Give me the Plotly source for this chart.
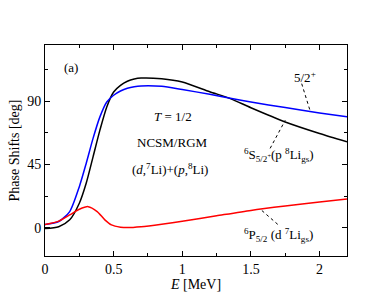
import plotly.graph_objects as go

# Energy grid (MeV) for the 5/2+ and 6S curves
E = [0, 0.1, 0.18, 0.25, 0.3, 0.35, 0.4, 0.45, 0.5, 0.55, 0.6, 0.65, 0.7, 0.85, 1.0, 1.2, 1.35, 1.5, 1.75, 2.0, 2.2]
black_52 = [-0.5, 0.8, 5.7, 17.5, 31.7, 50.5, 69.5, 86, 96.6, 101.3, 104.2, 105.8, 106.5, 106, 103.7, 96.8, 91.9, 85.4, 75.3, 67.1, 61.2]
blue_6S = [2.3, 4.5, 11.6, 29.3, 45.8, 63.6, 78.9, 89.5, 94.3, 97.3, 99.3, 100.4, 100.9, 100.6, 98.3, 95, 92.2, 89.5, 85.5, 81.7, 78.9]

E_red = [0, 0.1, 0.18, 0.25, 0.315, 0.38, 0.436, 0.484, 0.55, 0.6, 0.7, 0.85, 1.0, 1.25, 1.5, 1.75, 2.0, 2.2]
red_6P = [2.3, 4.8, 9.2, 13.2, 15.1, 11.6, 5.7, 2.1, 0.5, 0.2, 0.8, 2.6, 4.7, 8.6, 12.4, 15.5, 18.3, 20.5]

x_ticks = [0, 0.5, 1, 1.5, 2]
x_ticklabels = ["0", "0.5", "1", "1.5", "2"]
y_ticks = [0, 45, 90]
y_ticklabels = ["0", "45", "90"]

FONT = "Liberation Serif, Times New Roman, serif"

fig = go.Figure()
fig.add_trace(go.Scatter(x=E, y=black_52, mode="lines", line=dict(color="black", width=1.5, shape="spline", smoothing=0.7), showlegend=False))
fig.add_trace(go.Scatter(x=E, y=blue_6S, mode="lines", line=dict(color="blue", width=1.5, shape="spline", smoothing=0.7), showlegend=False))
fig.add_trace(go.Scatter(x=E_red, y=red_6P, mode="lines", line=dict(color="red", width=1.5, shape="spline", smoothing=0.7), showlegend=False))

# dotted pointer lines
fig.add_trace(go.Scatter(x=[1.87, 1.93], y=[102.5, 83.6], mode="lines", line=dict(color="black", width=1, dash="dot"), showlegend=False))
fig.add_trace(go.Scatter(x=[1.64, 1.75], y=[56.5, 76.5], mode="lines", line=dict(color="black", width=1, dash="dot"), showlegend=False))
fig.add_trace(go.Scatter(x=[1.58, 1.70], y=[12.3, 2.1], mode="lines", line=dict(color="black", width=1, dash="dot"), showlegend=False))

ann_font = dict(family=FONT, size=13, color="black")
annotations = [
    dict(x=0.19, y=114, text="(a)"),
    dict(x=0.93, y=78.9, text="<i>T</i> = 1/2"),
    dict(x=0.93, y=60.5, text="NCSM/RGM"),
    dict(x=0.91, y=41.6, text="(<i>d</i>,<sup>7</sup>Li)+(<i>p</i>,<sup>8</sup>Li)"),
    dict(x=1.895, y=107.5, text="5/2<sup>+</sup>"),
    dict(x=1.705, y=52, text="<sup>6</sup>S<sub>5/2<sup>+</sup></sub>(p <sup>8</sup>Li<sub>gs</sub>)"),
    dict(x=1.70, y=-5, text="<sup>6</sup>P<sub>5/2</sub> (d <sup>7</sup>Li<sub>gs</sub>)"),
]
for a in annotations:
    a.update(xref="x", yref="y", showarrow=False, font=ann_font)

axis_common = dict(
    showline=True, linecolor="black", linewidth=1, mirror="ticks",
    ticks="inside", ticklen=5, tickcolor="black", showgrid=False, zeroline=False,
    tickfont=dict(family=FONT, size=14, color="black"), automargin=False,
)
fig.update_xaxes(
    range=[0, 2.2], tickvals=x_ticks, ticktext=x_ticklabels,
    minor=dict(ticks="inside", ticklen=3, dtick=0.25, tick0=0, tickcolor="black", showgrid=False),
    title=dict(text="<i>E</i> [MeV]", font=dict(family=FONT, size=14, color="black"), standoff=2),
    **axis_common,
)
fig.update_yaxes(
    range=[-20, 130], tickvals=y_ticks, ticktext=y_ticklabels,
    minor=dict(ticks="inside", ticklen=3, dtick=22.5, tick0=0, tickcolor="black", showgrid=False),
    title=dict(text="Phase Shifts [deg]", font=dict(family=FONT, size=14, color="black"), standoff=4),
    **axis_common,
)
fig.update_layout(
    width=391, height=302,
    margin=dict(l=45, r=44, t=45, b=46),
    paper_bgcolor="white", plot_bgcolor="white",
    annotations=annotations,
)
fig.write_html("out.html", config={"displayModeBar": False},
               post_script="document.body.style.margin='0px';document.body.style.padding='0px';")
